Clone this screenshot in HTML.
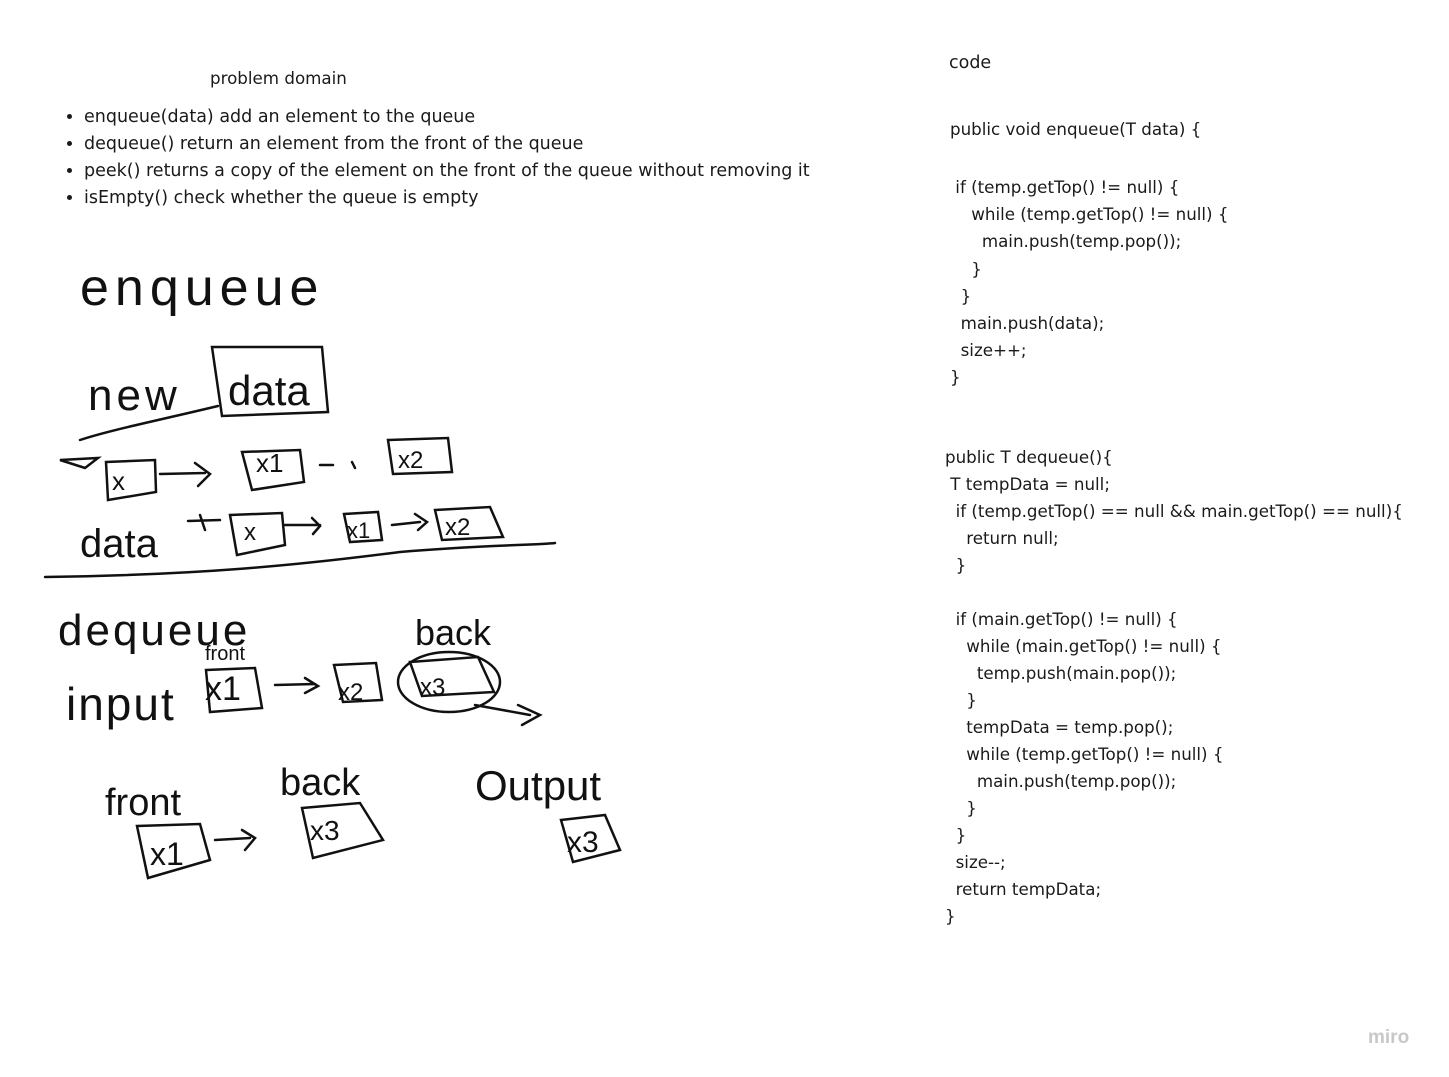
<!DOCTYPE html>
<html><head><meta charset="utf-8"><style>
body{margin:0;width:1449px;height:1077px;background:#fff;overflow:hidden;position:relative;font-family:"DejaVu Sans",sans-serif;color:#1a1a1a}
.t{position:absolute;font-size:16.7px;white-space:pre;line-height:1}
ul{position:absolute;left:62px;top:104px;margin:0;padding:0 0 0 22px;font-size:17.5px;line-height:27px}
svg{position:absolute;left:0;top:0}
</style></head><body>
<div class="t" style="left:210px;top:70px">problem domain</div>
<ul><li>enqueue(data) add an element to the queue</li><li>dequeue() return an element from the front of the queue</li><li>peek() returns a copy of the element on the front of the queue without removing it</li><li>isEmpty() check whether the queue is empty</li></ul>
<div class="t" style="left:949px;top:55px;font-size:17.5px">code</div>
<div class="t" style="left:950px;top:121px">public void enqueue(T data) {</div>
<div class="t" style="left:950px;top:174px;line-height:27.2px"> if (temp.getTop() != null) {
    while (temp.getTop() != null) {
      main.push(temp.pop());
    }
  }
  main.push(data);
  size++;
}</div>
<div class="t" style="left:945px;top:444px;line-height:27px">public T dequeue(){
 T tempData = null;
  if (temp.getTop() == null &amp;&amp; main.getTop() == null){
    return null;
  }

  if (main.getTop() != null) {
    while (main.getTop() != null) {
      temp.push(main.pop());
    }
    tempData = temp.pop();
    while (temp.getTop() != null) {
      main.push(temp.pop());
    }
  }
  size--;
  return tempData;
}</div>
<div class="t" style="left:1368px;top:1028px;font-size:19px;color:#c8c8c8;font-weight:bold;font-family:'Liberation Sans',sans-serif">miro</div>
<svg width="1449" height="1077" fill="none" stroke="#111" stroke-width="2.5" stroke-linecap="round">
<g font-family="Liberation Sans,sans-serif" fill="#111" stroke="none">
<text x="80" y="305" font-size="52" letter-spacing="6">enqueue</text>
<text x="88" y="410" font-size="44" letter-spacing="4">new</text>
<text x="228" y="405" font-size="42">data</text>
<text x="112" y="490" font-size="26">x</text>
<text x="256" y="472" font-size="26">x1</text>
<text x="398" y="468" font-size="24">x2</text>
<text x="80" y="557" font-size="40">data</text>
<text x="244" y="540" font-size="24">x</text>
<text x="347" y="538" font-size="22">x1</text>
<text x="445" y="535" font-size="24">x2</text>
<text x="58" y="645" font-size="44" letter-spacing="3">dequeue</text>
<text x="205" y="660" font-size="20">front</text>
<text x="66" y="720" font-size="46" letter-spacing="2">input</text>
<text x="205" y="700" font-size="34">x1</text>
<text x="338" y="700" font-size="24">x2</text>
<text x="420" y="695" font-size="24">x3</text>
<text x="415" y="645" font-size="36">back</text>
<text x="105" y="815" font-size="38">front</text>
<text x="280" y="795" font-size="38">back</text>
<text x="475" y="800" font-size="42">Output</text>
<text x="150" y="865" font-size="32">x1</text>
<text x="310" y="840" font-size="28">x3</text>
<text x="567" y="852" font-size="30">x3</text>
</g>
<path d="M212 347L322 347L328 412L222 416Z"/>
<path d="M218 406C160 420 110 430 80 440"/>
<path d="M60 460L98 458L85 468Z"/>
<path d="M106 462L155 460L156 492L108 500Z"/>
<path d="M160 474L205 473M195 463L210 474L198 486"/>
<path d="M242 452L300 450L304 482L252 490Z"/>
<path d="M320 465L333 465M352 462L355 468"/>
<path d="M388 440L448 438L452 472L393 474Z"/>
<path d="M230 515L282 513L285 545L237 555Z"/>
<path d="M285 525L320 525M312 518L320 526L313 534"/>
<path d="M344 514L378 512L382 540L350 542Z"/>
<path d="M392 525L420 522M415 514L427 522L418 530"/>
<path d="M435 510L490 507L503 537L442 540Z"/>
<path d="M45 577C200 575 300 565 400 552C480 545 540 545 555 543"/>
<path d="M188 521L220 520M200 515L205 530"/>
<path d="M206 670L255 668L262 708L210 712Z"/>
<path d="M275 685L315 684M305 678L318 686L305 693"/>
<path d="M334 665L376 663L382 700L343 702Z"/>
<ellipse cx="449" cy="682" rx="51" ry="30"/>
<path d="M410 662L478 657L494 692L422 696Z"/>
<path d="M475 705L530 715M518 705L540 715L522 725"/>
<path d="M137 826L200 824L210 860L148 878Z"/>
<path d="M215 840L250 838M242 830L255 838L245 850"/>
<path d="M302 808L360 803L383 840L313 858Z"/>
<path d="M561 820L605 815L620 850L573 862Z"/>
</svg>
</body></html>
